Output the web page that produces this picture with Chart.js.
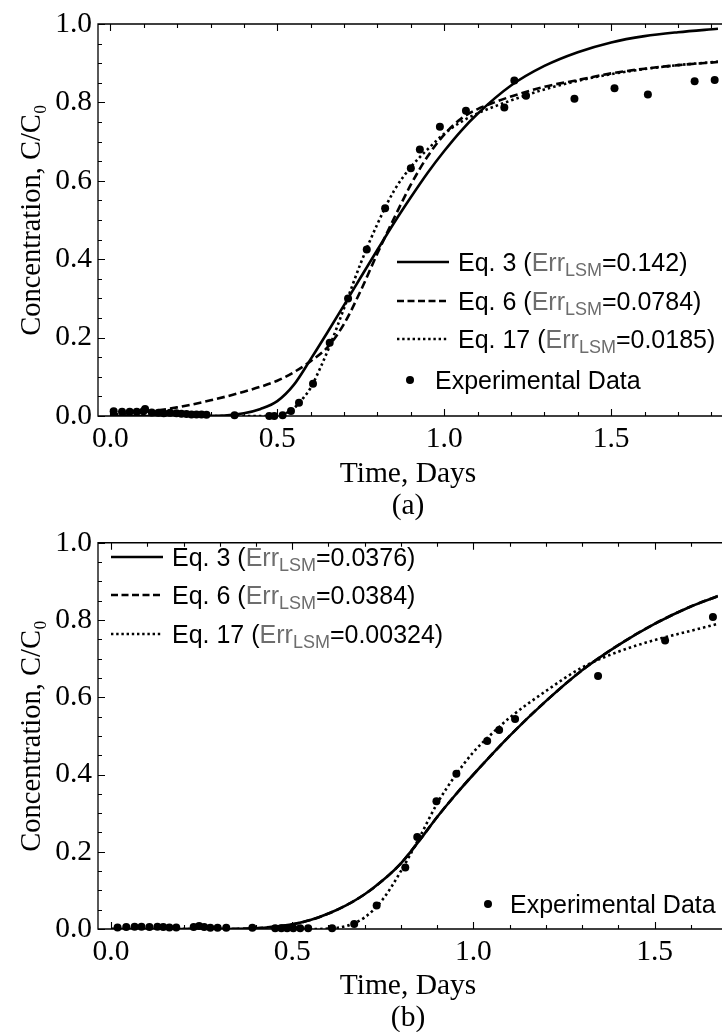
<!DOCTYPE html>
<html>
<head>
<meta charset="utf-8">
<script src="https://cdn.jsdelivr.net/npm/chart.js@4.4.0/dist/chart.umd.min.js"></script>
<style>
  html, body { margin: 0; padding: 0; background: #fff; width: 722px; height: 1032px; overflow: hidden; }
  .panel { position: absolute; left: 0; width: 722px; }
  #panelA { top: 0; height: 522px; }
  #panelB { top: 522px; height: 512px; }
  canvas { display: block; }
  .row { position: absolute; display: flex; align-items: center; height: 30px;
         font-family: 'Liberation Sans', Arial, sans-serif; font-size: 25px; color: #000; white-space: nowrap; }
  .row svg { display: block; margin-right: 9px; }
  .g { color: #6d6d6d; }
  .sub { font-size: 0.72em; vertical-align: -0.3em; line-height: 0; }
</style>
</head>
<body>
<div class="panel" id="panelA"><canvas id="chartA" width="722" height="522"></canvas></div>
<div class="panel" id="panelB"><canvas id="chartB" width="722" height="512"></canvas></div>

<!-- legend, panel (a) -->
<div class="row" style="left:397px; top:247px;"><svg width="52" height="10"><line x1="0" y1="5" x2="52" y2="5" stroke="#000" stroke-width="2.6"/></svg>Eq. 3 (<span class="g">Err<span class="sub">LSM</span></span>=0.142)</div>
<div class="row" style="left:397px; top:286px;"><svg width="52" height="10"><line x1="0" y1="5" x2="52" y2="5" stroke="#000" stroke-width="2.6" stroke-dasharray="7 3.5"/></svg>Eq. 6 (<span class="g">Err<span class="sub">LSM</span></span>=0.0784)</div>
<div class="row" style="left:397px; top:324px;"><svg width="52" height="10"><line x1="0" y1="5" x2="52" y2="5" stroke="#000" stroke-width="2.6" stroke-dasharray="2.4 2.8"/></svg>Eq. 17 (<span class="g">Err<span class="sub">LSM</span></span>=0.0185)</div>
<div class="row" style="left:404px; top:365px;"><svg width="14" height="14" style="margin-right:17px"><circle cx="6" cy="7" r="4" fill="#000"/></svg>Experimental Data</div>

<!-- legend, panel (b) -->
<div class="row" style="left:111px; top:542px;"><svg width="52" height="10"><line x1="0" y1="5" x2="52" y2="5" stroke="#000" stroke-width="2.6"/></svg>Eq. 3 (<span class="g">Err<span class="sub">LSM</span></span>=0.0376)</div>
<div class="row" style="left:111px; top:580px;"><svg width="52" height="10"><line x1="0" y1="5" x2="52" y2="5" stroke="#000" stroke-width="2.6" stroke-dasharray="7 3.5"/></svg>Eq. 6 (<span class="g">Err<span class="sub">LSM</span></span>=0.0384)</div>
<div class="row" style="left:111px; top:619px;"><svg width="52" height="10"><line x1="0" y1="5" x2="52" y2="5" stroke="#000" stroke-width="2.6" stroke-dasharray="2.4 2.8"/></svg>Eq. 17 (<span class="g">Err<span class="sub">LSM</span></span>=0.00324)</div>
<div class="row" style="left:482px; top:889px;"><svg width="14" height="14" style="margin-right:14px"><circle cx="6" cy="7" r="4" fill="#000"/></svg>Experimental Data</div>

<script>
// ---------- Panel (a): breakthrough data and model fits ----------
const measTimeA = [0.010, 0.035, 0.058, 0.079, 0.099, 0.104, 0.124, 0.144, 0.160, 0.179, 0.198, 0.213,
                   0.228, 0.243, 0.258, 0.273, 0.288, 0.372, 0.476, 0.491, 0.516, 0.541, 0.565, 0.607,
                   0.657, 0.712, 0.768, 0.823, 0.900, 0.927, 0.987, 1.065, 1.180, 1.210, 1.245, 1.390,
                   1.510, 1.610, 1.750, 1.810];
const measConcA = [0.012, 0.011, 0.011, 0.011, 0.012, 0.018, 0.009, 0.008, 0.007, 0.008, 0.007, 0.006,
                   0.005, 0.004, 0.004, 0.004, 0.003, 0.002, 0.000, 0.000, 0.002, 0.013, 0.034, 0.082,
                   0.187, 0.300, 0.425, 0.530, 0.632, 0.680, 0.738, 0.779, 0.787, 0.856, 0.817, 0.809,
                   0.836, 0.820, 0.854, 0.857];

const eq3TimeA = [0, 0.1, 0.2, 0.3, 0.35, 0.4, 0.45, 0.5, 0.55, 0.6, 0.65, 0.7, 0.75, 0.8, 0.85, 0.9,
                  0.95, 1.0, 1.05, 1.1, 1.2, 1.3, 1.4, 1.5, 1.6, 1.7, 1.82];
const eq3ConcA = [0, 0, 0, 0.0005, 0.002, 0.007, 0.018, 0.038, 0.08, 0.145, 0.213, 0.283, 0.354, 0.424, 0.493, 0.558,
                  0.62, 0.676, 0.727, 0.771, 0.843, 0.893, 0.928, 0.953, 0.969, 0.979, 0.988];

const eq6TimeA = [0, 0.1, 0.2, 0.3, 0.4, 0.5, 0.55, 0.6, 0.65, 0.7, 0.75, 0.8, 0.85, 0.9, 0.95, 1.0,
                  1.05, 1.1, 1.15, 1.2, 1.3, 1.4, 1.5, 1.6, 1.7, 1.82];
const eq6ConcA = [0.003, 0.010, 0.022, 0.040, 0.062, 0.090, 0.112, 0.14, 0.175, 0.235, 0.32, 0.415, 0.505, 0.59, 0.662, 0.718,
                  0.758, 0.783, 0.80, 0.815, 0.84, 0.857, 0.874, 0.886, 0.895, 0.903];

const eq17TimeA = [0, 0.1, 0.2, 0.3, 0.4, 0.45, 0.5, 0.52, 0.55, 0.58, 0.6, 0.63, 0.66, 0.7, 0.75, 0.8,
                   0.85, 0.9, 0.95, 1.0, 1.05, 1.1, 1.2, 1.3, 1.4, 1.5, 1.6, 1.7, 1.82];
const eq17ConcA = [0, 0, 0, 0, 0, 0, 0.001, 0.005, 0.02, 0.048, 0.072, 0.125, 0.185, 0.275, 0.39, 0.49,
                   0.575, 0.635, 0.68, 0.72, 0.75, 0.772, 0.805, 0.833, 0.855, 0.872, 0.885, 0.895, 0.904];

// ---------- Panel (b) ----------
const measTimeB = [0.018, 0.042, 0.065, 0.084, 0.106, 0.128, 0.144, 0.161, 0.180, 0.228, 0.243, 0.257,
                   0.274, 0.294, 0.318, 0.390, 0.453, 0.470, 0.486, 0.503, 0.522, 0.544, 0.610, 0.671,
                   0.733, 0.812, 0.845, 0.898, 0.953, 1.038, 1.071, 1.115, 1.344, 1.529, 1.661];
const measConcB = [0.004, 0.005, 0.006, 0.006, 0.005, 0.006, 0.005, 0.004, 0.004, 0.005, 0.008, 0.005,
                   0.003, 0.003, 0.003, 0.003, 0.002, 0.002, 0.002, 0.002, 0.002, 0.002, 0.002, 0.013,
                   0.061, 0.159, 0.238, 0.331, 0.402, 0.487, 0.515, 0.544, 0.655, 0.747, 0.808];

const eq3TimeB = [0, 0.1, 0.2, 0.3, 0.4, 0.45, 0.5, 0.55, 0.6, 0.65, 0.7, 0.75, 0.8, 0.85, 0.9, 0.95,
                  1.0, 1.1, 1.2, 1.3, 1.4, 1.5, 1.6, 1.675];
const eq3ConcB = [0, 0, 0, 0, 0.002, 0.006, 0.012, 0.023, 0.04, 0.062, 0.09, 0.126, 0.17, 0.228, 0.29, 0.347,
                  0.40, 0.50, 0.59, 0.67, 0.735, 0.79, 0.835, 0.862];

const eq6TimeB = [0, 0.1, 0.2, 0.3, 0.4, 0.45, 0.5, 0.55, 0.6, 0.65, 0.7, 0.75, 0.8, 0.85, 0.9, 0.95,
                  1.0, 1.1, 1.2, 1.3, 1.4, 1.5, 1.6, 1.675];
const eq6ConcB = [0, 0, 0, 0, 0.002, 0.006, 0.012, 0.023, 0.04, 0.062, 0.09, 0.126, 0.17, 0.228, 0.29, 0.347,
                  0.40, 0.50, 0.59, 0.67, 0.735, 0.79, 0.835, 0.862];

const eq17TimeB = [0, 0.1, 0.2, 0.3, 0.4, 0.5, 0.55, 0.6, 0.65, 0.7, 0.75, 0.8, 0.85, 0.9, 0.95, 1.0,
                   1.05, 1.1, 1.2, 1.3, 1.4, 1.5, 1.6, 1.675];
const eq17ConcB = [0, 0, 0, 0, 0, 0, 0, 0.001, 0.008, 0.03, 0.077, 0.15, 0.235, 0.325, 0.397, 0.458,
                   0.505, 0.547, 0.616, 0.677, 0.718, 0.748, 0.772, 0.79];

// ---------- Axis ticks ----------
const xTicksA = [0, 0.1, 0.2, 0.3, 0.4, 0.5, 0.6, 0.7, 0.8, 0.9, 1.0, 1.1, 1.2, 1.3, 1.4, 1.5, 1.6, 1.7, 1.8];
const xTicksB = [0, 0.1, 0.2, 0.3, 0.4, 0.5, 0.6, 0.7, 0.8, 0.9, 1.0, 1.1, 1.2, 1.3, 1.4, 1.5, 1.6];
const xLabelValues = [0, 0.5, 1.0, 1.5];
const yTicks = [0, 0.05, 0.1, 0.15, 0.2, 0.25, 0.3, 0.35, 0.4, 0.45, 0.5, 0.55, 0.6, 0.65, 0.7, 0.75,
                0.8, 0.85, 0.9, 0.95, 1.0];
const yLabelValues = [0, 0.2, 0.4, 0.6, 0.8, 1.0];

const xTitleA = ['Time, Days', '(a)'];
const xTitleB = ['Time, Days', '(b)'];
const yTitle = 'Concentration, C/C\u2080';

// ---------- helpers ----------
const pairs = (xs, ys) => xs.map((v, i) => ({ x: v, y: ys[i] }));
const isLabelled = (v, list) => list.some(l => Math.abs(l - v) < 1e-9);

const serif = "'Liberation Serif', 'Times New Roman', serif";

// Inward-pointing frame ticks on bottom, top and left edges, Mathematica style.
const frameTicks = {
  id: 'frameTicks',
  afterDatasetsDraw(chart) {
    const { ctx, chartArea: a, scales: { x, y } } = chart;
    ctx.save();
    ctx.strokeStyle = '#000';
    ctx.lineWidth = 1.3;
    ctx.beginPath();
    ctx.moveTo(a.right + 4, a.top); ctx.lineTo(a.left, a.top); ctx.lineTo(a.left, a.bottom); ctx.lineTo(a.right + 4, a.bottom);
    ctx.stroke();
    ctx.lineWidth = 1.1;
    ctx.beginPath();
    x.ticks.forEach(t => {
      const px = Math.round(x.getPixelForValue(t.value)) + 0.5;
      const len = isLabelled(t.value, xLabelValues) ? 7 : 4;
      ctx.moveTo(px, a.bottom); ctx.lineTo(px, a.bottom - len);
      ctx.moveTo(px, a.top); ctx.lineTo(px, a.top + len);
    });
    y.ticks.forEach(t => {
      const py = Math.round(y.getPixelForValue(t.value)) + 0.5;
      const len = isLabelled(t.value, yLabelValues) ? 7 : 4;
      ctx.moveTo(a.left, py); ctx.lineTo(a.left + len, py);
    });
    ctx.stroke();
    ctx.restore();
  }
};

function curve(label, xs, ys, dash) {
  return {
    label, data: pairs(xs, ys), showLine: true, pointRadius: 0,
    borderColor: '#000', borderWidth: 2.6, borderDash: dash, borderCapStyle: 'butt',
    cubicInterpolationMode: 'monotone', fill: false
  };
}

function buildChart(canvasId, cfg) {
  return new Chart(document.getElementById(canvasId), {
    type: 'scatter',
    data: {
      datasets: [
        { label: 'Experimental Data', data: pairs(cfg.measT, cfg.measC), pointRadius: 4,
          pointBackgroundColor: '#000', pointBorderWidth: 0, showLine: false, clip: false },
        curve('Eq. 3', cfg.e3T, cfg.e3C, []),
        curve('Eq. 6', cfg.e6T, cfg.e6C, [8, 4]),
        curve('Eq. 17', cfg.e17T, cfg.e17C, [2.5, 3])
      ]
    },
    options: {
      responsive: false,
      animation: false,
      layout: { padding: { top: cfg.padTop, left: 0, right: 0, bottom: 0 } },
      plugins: { legend: { display: false }, tooltip: { enabled: false } },
      scales: {
        x: {
          type: 'linear', position: 'bottom', min: cfg.xMin, max: cfg.xMax,
          afterBuildTicks: s => { s.ticks = cfg.xTicks.map(v => ({ value: v })); },
          afterFit: s => { s.height = cfg.xHeight; },
          grid: { display: false, drawTicks: false },
          border: { display: false },
          ticks: {
            autoSkip: false, maxRotation: 0, minRotation: 0, padding: 8, color: '#000',
            font: { family: serif, size: 29.5, lineHeight: 1 },
            callback: v => isLabelled(v, xLabelValues) ? v.toFixed(1) : ''
          },
          title: {
            display: true, text: cfg.xTitle, color: '#000',
            font: { family: serif, size: 29.5, lineHeight: 32 / 29.5 },
            padding: { top: 0, bottom: 0 }
          }
        },
        y: {
          type: 'linear', position: 'left', min: 0, max: 1,
          afterBuildTicks: s => { s.ticks = yTicks.map(v => ({ value: v })); },
          afterFit: s => { s.width = 98; },
          grid: { display: false, drawTicks: false },
          border: { display: false },
          ticks: {
            autoSkip: false, padding: 6, color: '#000',
            font: { family: serif, size: 29.5, lineHeight: 1 },
            callback: v => isLabelled(v, yLabelValues) ? v.toFixed(1) : ''
          },
          title: {
            display: true, text: yTitle, color: '#000',
            font: { family: serif, size: 28.5, lineHeight: 32 / 28.5 },
            padding: { top: 17, bottom: 0 }
          }
        }
      }
    },
    plugins: [frameTicks]
  });
}

buildChart('chartA', {
  measT: measTimeA, measC: measConcA,
  e3T: eq3TimeA, e3C: eq3ConcA, e6T: eq6TimeA, e6C: eq6ConcA, e17T: eq17TimeA, e17C: eq17ConcA,
  xMin: -0.037, xMax: 1.82, xTicks: xTicksA, xTitle: xTitleA, padTop: 24, xHeight: 106
});

buildChart('chartB', {
  measT: measTimeB, measC: measConcB,
  e3T: eq3TimeB, e3C: eq3ConcB, e6T: eq6TimeB, e6C: eq6ConcB, e17T: eq17TimeB, e17C: eq17ConcB,
  xMin: -0.036, xMax: 1.675, xTicks: xTicksB, xTitle: xTitleB, padTop: 15.5, xHeight: 105
});
</script>
</body>
</html>
